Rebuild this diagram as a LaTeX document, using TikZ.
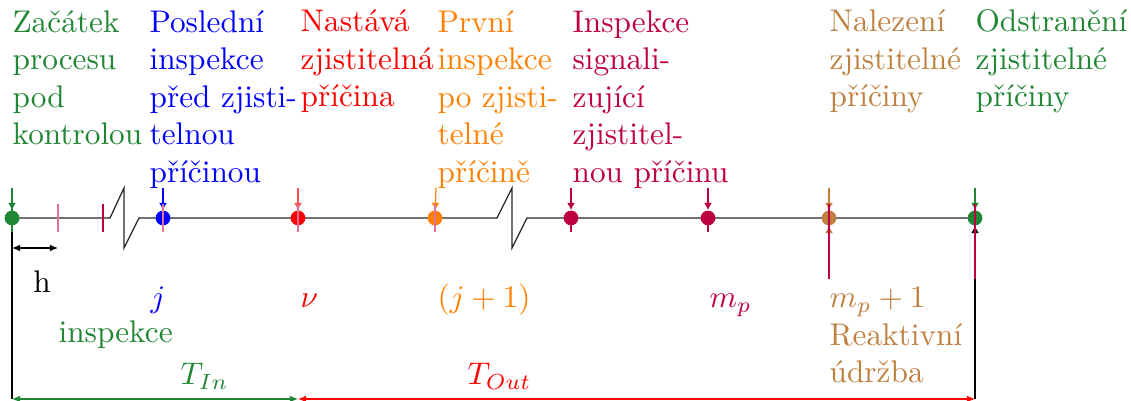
\documentclass[tikz,border=0pt]{standalone}
\usetikzlibrary{arrows.meta}
\definecolor{cgreen}{RGB}{33,134,52}
\definecolor{corange}{RGB}{255,128,0}
\definecolor{ccrim}{RGB}{191,0,64}
\definecolor{cbrown}{RGB}{191,128,64}
\definecolor{cpink}{RGB}{226,112,152}
\begin{document}
\begin{tikzpicture}[x=0.3195pt,y=-0.3195pt,
  evt/.style={circle,fill=#1,inner sep=0pt,minimum size=4.7pt},
  lab/.style={anchor=base west,inner sep=0pt,align=left,text=#1},
  downarr/.style={-{Latex[length=2.3pt,width=2.6pt]}},
  uparr/.style={-{Latex[length=2.3pt,width=2.6pt,color=#1]}},
  dimarr/.style={{Latex[length=2.6pt,width=2.2pt]}-{Latex[length=2.6pt,width=2.2pt]}},
  axis/.style={black!85,line width=0.4pt}]
\useasboundingbox (0,0) rectangle (1131,401);
% event coordinates
\coordinate (c1) at (12,218);
\coordinate (c2) at (163,218);
\coordinate (c3) at (298,218);
\coordinate (c4) at (435,218);
\coordinate (c5) at (571,218);
\coordinate (c6) at (708,218);
\coordinate (c7) at (829,218);
\coordinate (c8) at (975,218);
% top arrow starts
\coordinate (t1) at (12,188);
\coordinate (t2) at (163,188);
\coordinate (t3) at (298,188);
\coordinate (t4) at (436,188);
\coordinate (t5) at (571,188);
\coordinate (t6) at (708,188);
\coordinate (t7) at (829,188);
\coordinate (t8) at (975,188);
% bottom coordinates
\coordinate (b1) at (12,399);
\coordinate (b3) at (298,399);
\coordinate (b8) at (975,399);
\coordinate (u7) at (829,279);
\coordinate (u8) at (975,279);
\coordinate (h1) at (12,248);
\coordinate (h2) at (58,248);
% time axis with breaks
\draw[axis] (c1) -- (110,218) -- (124,188) -- (124,248) -- (139,218) -- (c2) -- (c3) -- (c4)
  -- (497,218) -- (512,188) -- (512,248) -- (527,218) -- (c5) -- (c6) -- (c7) -- (c8);
% inspection ticks
\draw[cpink] (58,204) -- (58,232);
\draw[ccrim] (103,204) -- (103,232);
% lines behind events
\draw[cgreen] (t1) -- (12,232);
\draw (12,232) -- (b1);
% events
\node[evt=cgreen] (p1) at (c1) {};
\node[evt=blue] (p2) at (c2) {};
\node[evt=red] (p3) at (c3) {};
\node[evt=corange] (p4) at (c4) {};
\node[evt=ccrim] (p5) at (c5) {};
\node[evt=ccrim] (p6) at (c6) {};
\node[evt=cbrown] (p7) at (c7) {};
\node[evt=cgreen] (p8) at (c8) {};
% arrows into events
\draw[cgreen,downarr] (t1) -- (p1);
\draw[blue,downarr] (t2) -- (p2);
\draw[cpink] (163,204) -- (163,232);
\draw[red!70,downarr] (t3) -- (p3);
\draw[cpink] (298,204) -- (298,232);
\draw[corange,downarr] (t4) -- (p4);
\draw[cpink] (435,204) -- (435,232);
\draw[ccrim,downarr] (t5) -- (p5);
\draw[ccrim] (571,218) -- (571,232);
\draw[ccrim,downarr] (t6) -- (p6);
\draw[ccrim] (708,218) -- (708,232);
\draw[cbrown,downarr] (t7) -- (p7);
\draw[ccrim,uparr=cbrown] (u7) -- (p7);
\draw[ccrim] (829,204) -- (u7);
\draw[cgreen,downarr] (t8) -- (p8);
\draw[uparr=black] (b8) -- (p8);
\draw[ccrim] (975,204) -- (u8);
% h
\draw[dimarr] (h1) -- (h2);
\node[anchor=base,inner sep=0pt] (hl) at (42,293) {h};
% durations
\draw[cgreen,dimarr] (b1) -- (b3);
\draw[red,dimarr] (b3) -- (b8);
\node[lab=cgreen] (tin) at (180,385) {$T_{In}$};
\node[lab=red] (tout) at (467,385) {$T_{Out}$};
% top labels (base = baseline of last line)
\node[lab=cgreen] (l1) at (12,145) {Začátek\\procesu\\pod\\kontrolou};
\node[lab=blue] (l2) at (149,182.5) {Poslední\\inspekce\\před zjisti-\\telnou\\příčinou};
\node[lab=red] (l3) at (300,107) {Nastává\\zjistitelná\\příčina};
\node[lab=corange] (l4) at (437,182.5) {První\\inspekce\\po zjisti-\\telné\\příčině};
\node[lab=ccrim] (l5) at (572,182.5) {Inspekce\\signali-\\zující\\zjistitel-\\nou příčinu};
\node[lab=cbrown] (l7) at (829,107) {Nalezení\\zjistitelné\\příčiny};
\node[lab=cgreen] (l8) at (975,107) {Odstranění\\zjistitelné\\příčiny};
% bottom labels
\node[lab=blue] (m2) at (150,308) {$j$};
\node[lab=red] (m3) at (300,308) {$\nu$};
\node[lab=corange] (m4) at (437,308) {$(j+1)$};
\node[lab=ccrim] (m6) at (709,308) {$m_p$};
\node[lab=cbrown] (m7) at (829,383) {$m_p+1$\\Reaktivní\\údržba};
\node[lab=cgreen] (ins) at (58,343) {inspekce};
\end{tikzpicture}
\end{document}
